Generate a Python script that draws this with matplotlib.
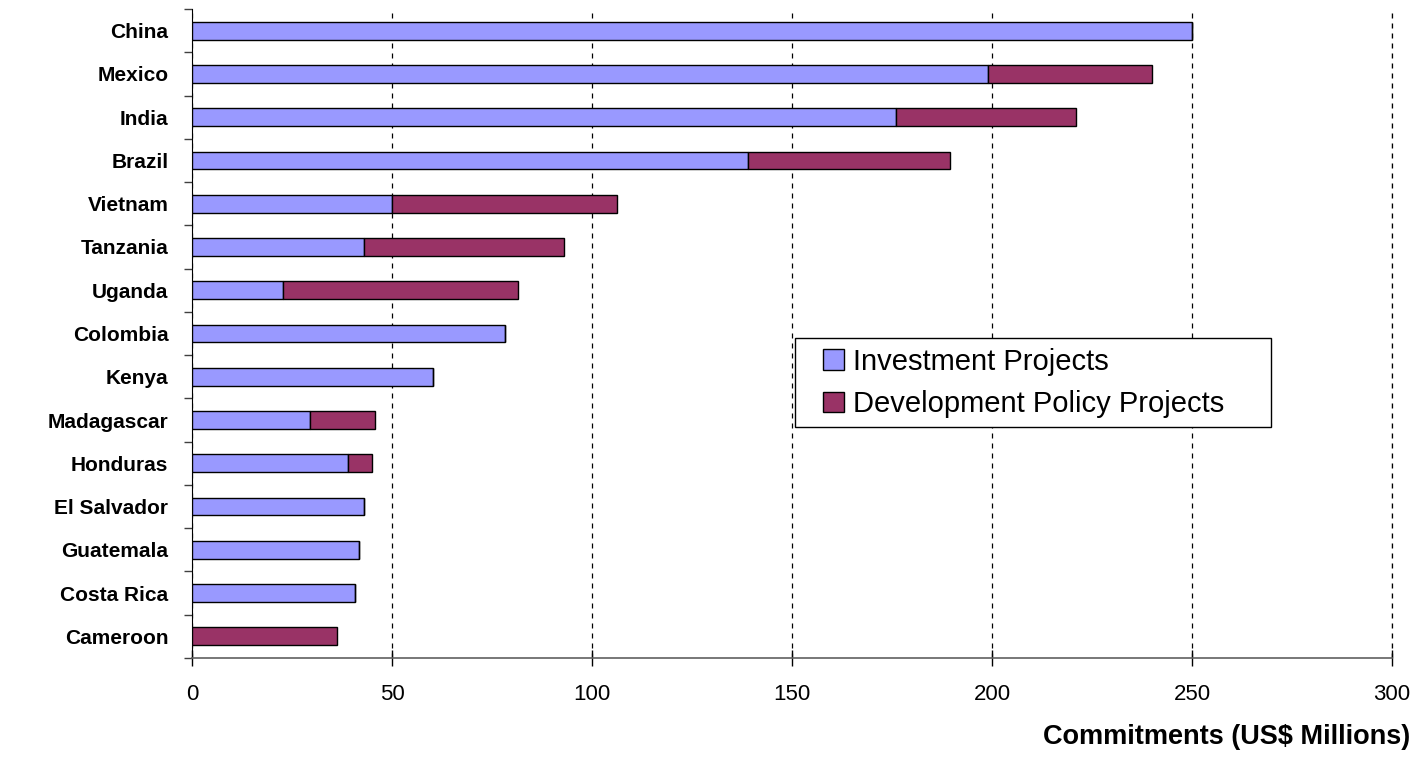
import numpy as np
import matplotlib.pyplot as plt
from matplotlib.patches import Rectangle
from matplotlib.ticker import FixedLocator

plt.rcParams['font.family'] = ['Liberation Sans', 'DejaVu Sans']

countries = ['China', 'Mexico', 'India', 'Brazil', 'Vietnam', 'Tanzania', 'Uganda',
             'Colombia', 'Kenya', 'Madagascar', 'Honduras', 'El Salvador',
             'Guatemala', 'Costa Rica', 'Cameroon']
investment = [250, 199, 176, 139, 50, 43, 22.7, 78.2, 60.3, 29.4, 38.9, 43.1, 41.7, 40.8, 0]
dev_policy = [0, 41, 45, 50.4, 56.2, 50.1, 58.7, 0, 0, 16.4, 6.1, 0, 0, 0, 36.3]
xticks = [0, 50, 100, 150, 200, 250, 300]

inv_color = '#9999FF'
dpl_color = '#993366'

fig = plt.figure(figsize=(14.27, 7.58), dpi=100)
ax = fig.add_axes([192 / 1427, 1 - 658 / 758, 1200 / 1427, 649 / 758])

y = np.arange(len(countries))
ax.barh(y, investment, height=0.41, color=inv_color, edgecolor='black', linewidth=1,
        label='Investment Projects', zorder=3)
ax.barh(y, dev_policy, left=investment, height=0.41, color=dpl_color, edgecolor='black',
        linewidth=1, label='Development Policy Projects', zorder=3)

ax.set_xlim(0, 300)
ax.set_ylim(len(countries) - 0.5, -0.5)
ax.set_xticks(xticks)
ax.set_xticklabels([str(t) for t in xticks], fontsize=16)
ax.set_yticks(y)
ax.set_yticklabels(countries, fontsize=15, fontweight='bold')
ax.yaxis.set_minor_locator(FixedLocator(np.arange(-0.5, len(countries), 1)))
ax.tick_params(axis='y', which='major', length=0, pad=17)
ax.tick_params(axis='y', which='minor', length=6, width=1, color='#404040', direction='out')
ax.tick_params(axis='x', which='major', length=12, width=1, direction='inout', pad=13)

ax.xaxis.grid(True, linestyle=(0, (4, 4)), color='black', linewidth=0.9, zorder=0)
ax.axvline(300, linestyle=(0, (4, 4)), color='black', linewidth=0.9, zorder=0, clip_on=False)
ax.spines['top'].set_visible(False)
ax.spines['right'].set_visible(False)
ax.spines['bottom'].set_color('#606060')
ax.spines['bottom'].set_linewidth(1.2)
ax.spines['left'].set_color('black')

fig.text(1410 / 1427, 1 - 737 / 758, 'Commitments (US$ Millions)', fontsize=19.5,
         fontweight='bold', ha='right', va='center')

# legend frame drawn separately so the entries can sit inset from its left edge
ax.add_patch(Rectangle((795 / 1427, 1 - 427 / 758), 476 / 1427, 89 / 758,
                       transform=fig.transFigure, facecolor='white',
                       edgecolor='black', linewidth=1, zorder=4, clip_on=False))
leg = ax.legend(loc='center left', bbox_to_anchor=(823 / 1427, 1 - 383 / 758),
                bbox_transform=fig.transFigure, borderaxespad=0, borderpad=0,
                fontsize=21, handlelength=0.72, handleheight=0.72, handletextpad=0.3,
                labelspacing=0.5, frameon=False)
leg.set_zorder(6)

fig.savefig('out.png', dpi=100)
